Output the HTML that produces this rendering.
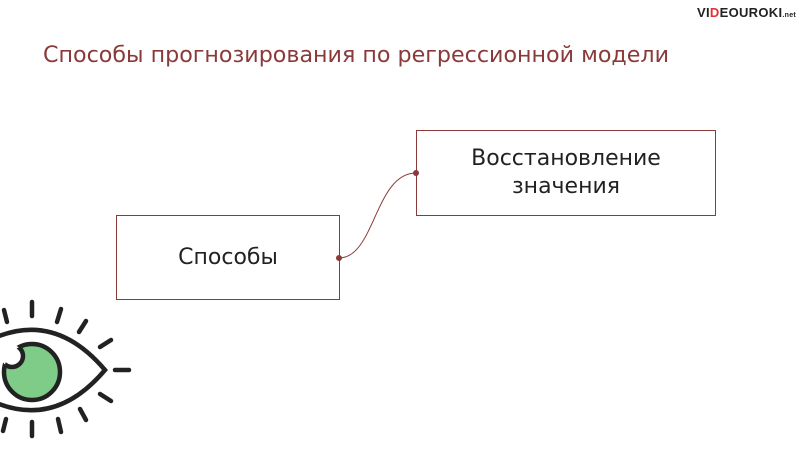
<!DOCTYPE html>
<html><head><meta charset="utf-8"><style>
html,body{margin:0;padding:0;background:#fff;}
body{width:800px;height:450px;position:relative;overflow:hidden;font-family:"DejaVu Sans","Liberation Sans",sans-serif;}
.t{position:absolute;left:43px;top:42px;font-size:22.2px;color:#8b3a3a;white-space:nowrap;}
.box{position:absolute;border:1px solid #8b3a3a;box-sizing:border-box;display:flex;align-items:center;justify-content:center;text-align:center;font-size:22px;color:#222;line-height:28px;}
.logo{position:absolute;left:697px;top:5px;font-size:13px;font-weight:bold;color:#222;letter-spacing:0.3px;font-family:"Liberation Sans",sans-serif;}
</style></head><body>
<div class="logo">VI<span style="color:#d33">D</span>EOUROKI<span style="font-size:7px">.net</span></div>
<div class="t">Способы прогнозирования по регрессионной модели</div>
<div class="box" style="left:116px;top:215px;width:224px;height:85px;">Способы</div>
<div class="box" style="left:416px;top:130px;width:300px;height:86px;">Восстановление<br>значения</div>
<svg width="800" height="450" style="position:absolute;left:0;top:0">
<defs><clipPath id="c"><circle cx="32" cy="372" r="28"/></clipPath></defs>
<path d="M339 258 C375 258 375 173 416 173" fill="none" stroke="#8b3a3a" stroke-width="1"/>
<circle cx="339" cy="258" r="3" fill="#8b3a3a"/><circle cx="416" cy="173" r="3" fill="#8b3a3a"/>
<g stroke="#222" stroke-width="4.5" stroke-linecap="round" fill="none">
<path d="M-20 345 Q50 305 105 370 Q50 435 -20 395"/>
<line x1="32" y1="302" x2="32" y2="316"/>
<line x1="61" y1="309" x2="57" y2="322"/>
<line x1="86" y1="321" x2="79" y2="332"/>
<line x1="111" y1="340" x2="100" y2="347"/>
<line x1="115" y1="370" x2="129" y2="370"/>
<line x1="100" y1="394" x2="111" y2="401"/>
<line x1="80" y1="409" x2="86" y2="420"/>
<line x1="58" y1="419" x2="61" y2="432"/>
<line x1="32" y1="422" x2="32" y2="436"/>
<line x1="6" y1="419" x2="3" y2="431"/>
<line x1="4" y1="310" x2="7" y2="322"/>
</g>
<circle cx="32" cy="372" r="28" fill="#7fcb88" stroke="#222" stroke-width="4.5"/>
<circle cx="12" cy="356" r="11" fill="#fff"/>
<circle cx="12" cy="356" r="11" fill="none" stroke="#222" stroke-width="4.5" clip-path="url(#c)"/>
</svg>
</body></html>
